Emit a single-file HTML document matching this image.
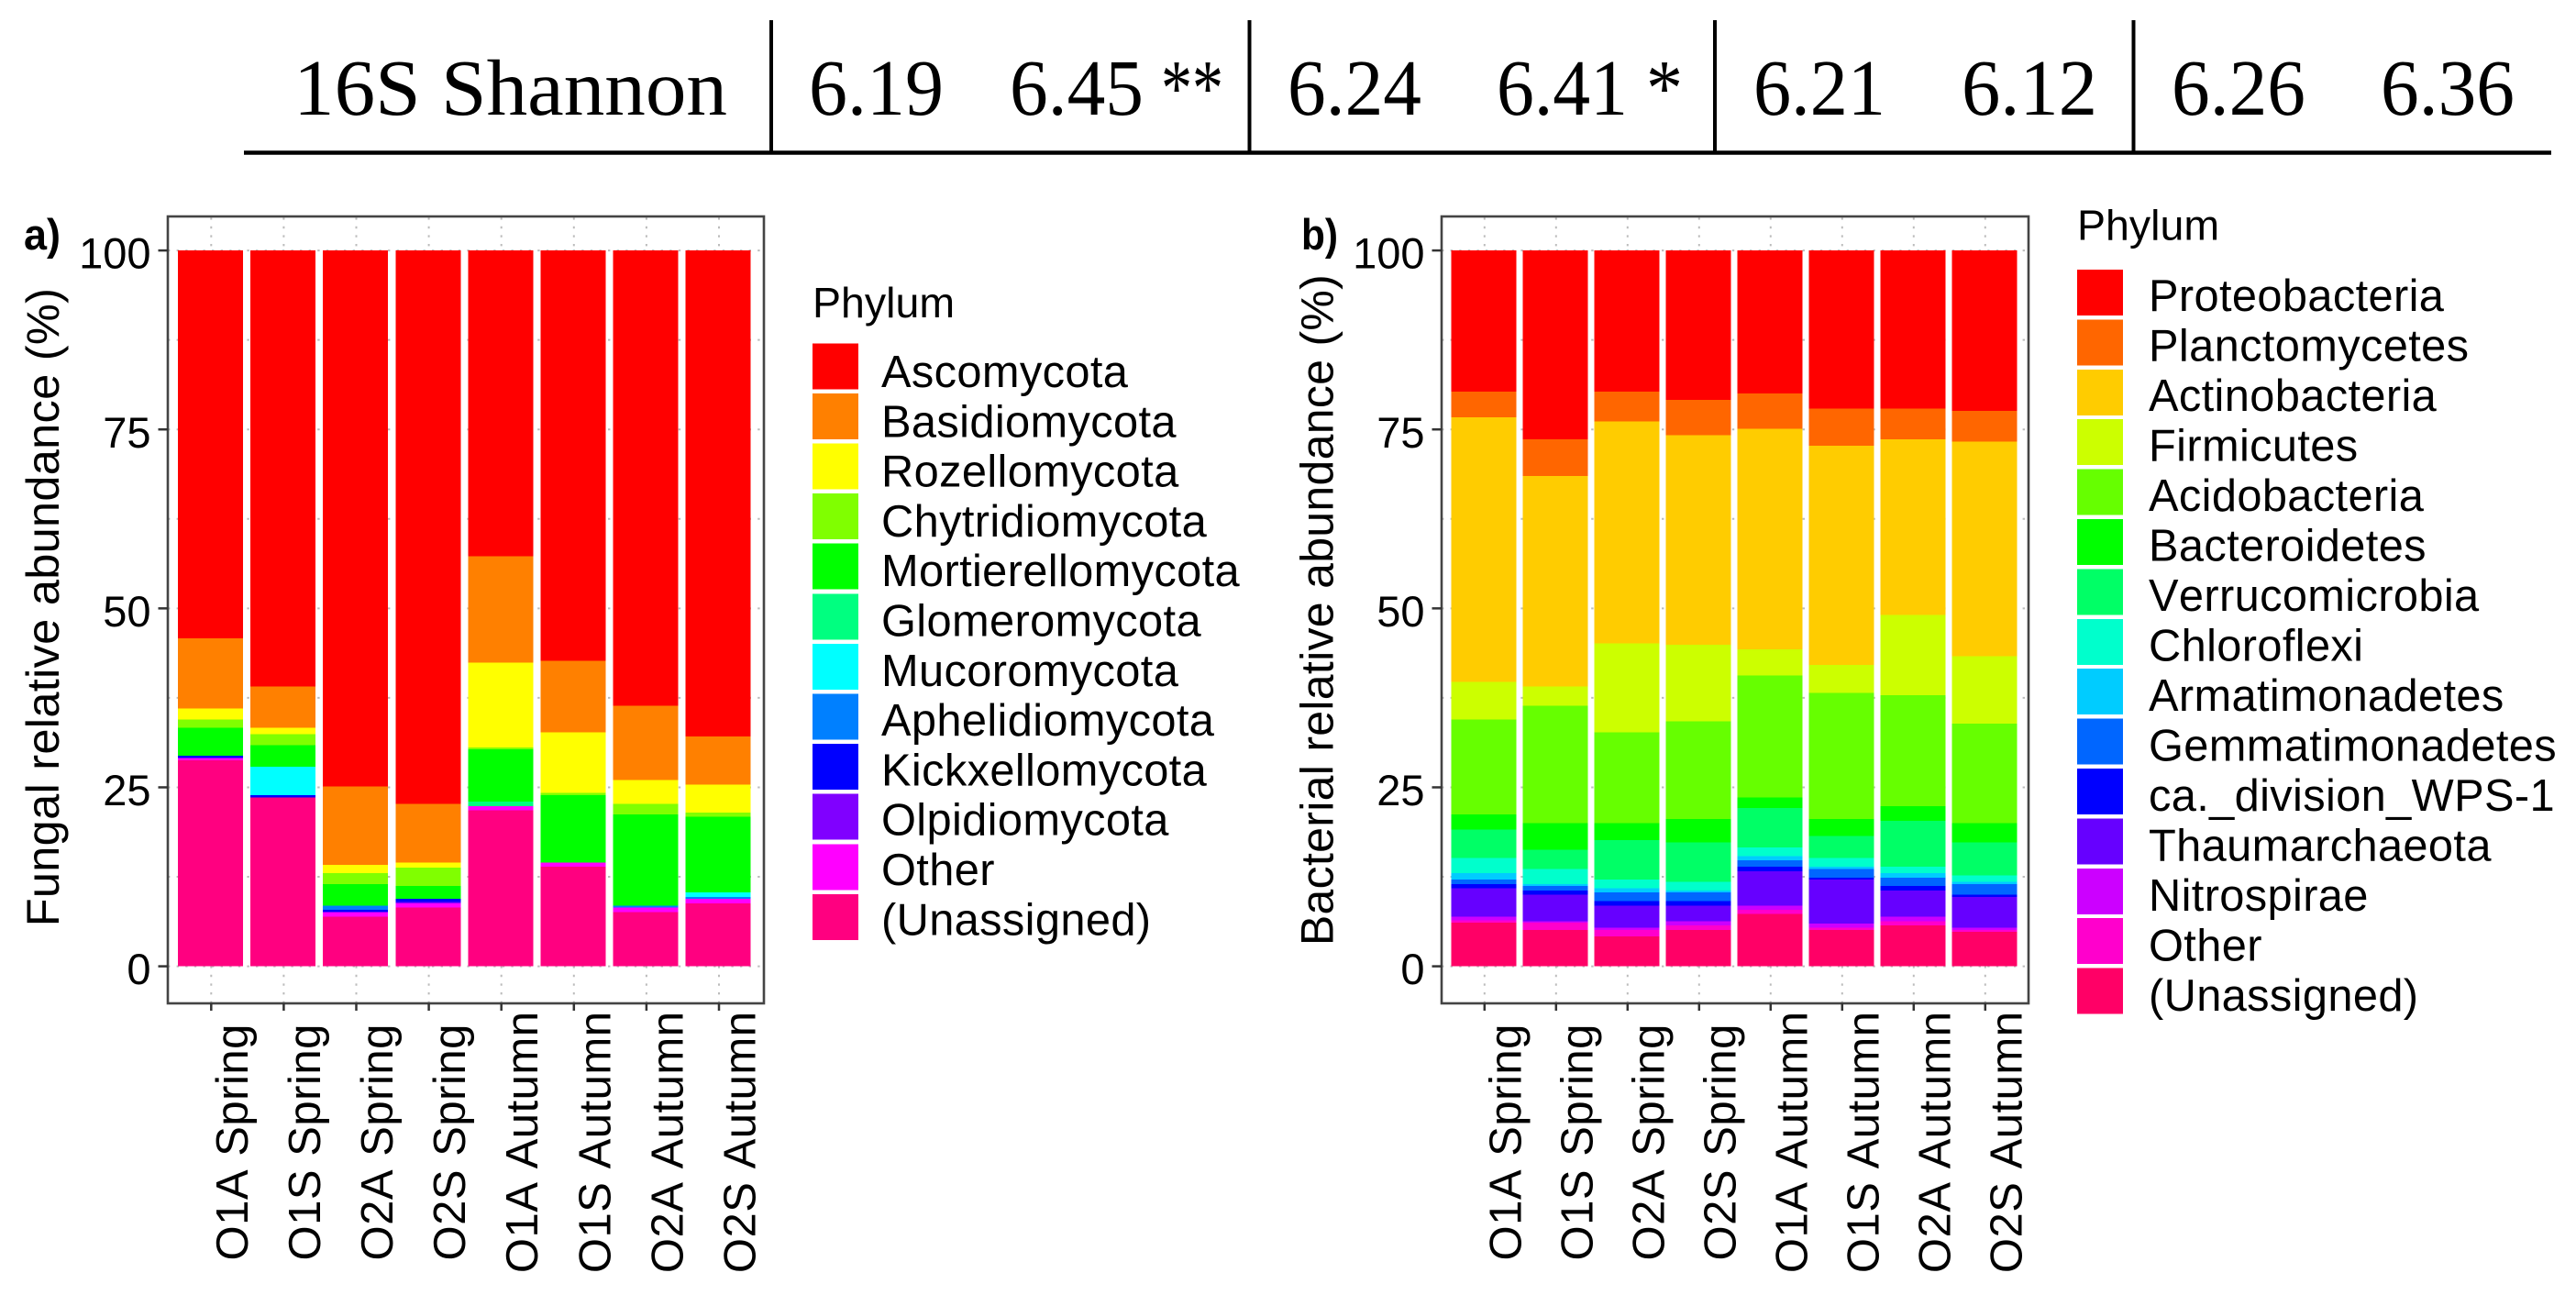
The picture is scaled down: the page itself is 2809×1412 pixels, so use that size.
<!DOCTYPE html>
<html lang="en">
<head>
<meta charset="utf-8">
<title>Fungal and bacterial relative abundance</title>
<style>
html,body{margin:0;padding:0;background:#fff;width:2809px;height:1412px;overflow:hidden}
svg{display:block}
text{font-family:"Liberation Sans",Arial,sans-serif;fill:#000}
.serif{font-family:"Liberation Serif","Times New Roman",serif;font-size:87px}
</style>
</head>
<body>
<svg id="figure" xmlns="http://www.w3.org/2000/svg" width="2809" height="1412" viewBox="0 0 2809 1412">
  <rect x="0" y="0" width="2809" height="1412" fill="#fff"/>
  <g>
    <text class="serif" x="320" y="125" textLength="473" lengthAdjust="spacingAndGlyphs">16S Shannon</text>
    <line x1="841" y1="22" x2="841" y2="166" stroke="#000" stroke-width="4"/>
    <line x1="1362.5" y1="22" x2="1362.5" y2="166" stroke="#000" stroke-width="4"/>
    <line x1="1870" y1="22" x2="1870" y2="166" stroke="#000" stroke-width="4"/>
    <line x1="2326.5" y1="22" x2="2326.5" y2="166" stroke="#000" stroke-width="4"/>
    <line x1="266" y1="166.5" x2="2782" y2="166.5" stroke="#000" stroke-width="4.5"/>
    <text class="serif" x="882" y="125" textLength="147" lengthAdjust="spacingAndGlyphs">6.19</text>
    <text class="serif" x="1101" y="125" textLength="146" lengthAdjust="spacingAndGlyphs">6.45</text>
    <text class="serif" x="1266" y="125" textLength="68" lengthAdjust="spacingAndGlyphs">**</text>
    <text class="serif" x="1404" y="125" textLength="146" lengthAdjust="spacingAndGlyphs">6.24</text>
    <text class="serif" x="1632" y="125" textLength="143" lengthAdjust="spacingAndGlyphs">6.41</text>
    <text class="serif" x="1795" y="125" textLength="40" lengthAdjust="spacingAndGlyphs">*</text>
    <text class="serif" x="1912" y="125" textLength="144" lengthAdjust="spacingAndGlyphs">6.21</text>
    <text class="serif" x="2139" y="125" textLength="148" lengthAdjust="spacingAndGlyphs">6.12</text>
    <text class="serif" x="2368" y="125" textLength="146" lengthAdjust="spacingAndGlyphs">6.26</text>
    <text class="serif" x="2596" y="125" textLength="146" lengthAdjust="spacingAndGlyphs">6.36</text>
  </g>
  <g id="chart-a"></g>
  <g id="chart-b"></g>
</svg>
<script>
const sampleLabels = ["O1A Spring","O1S Spring","O2A Spring","O2S Spring","O1A Autumn","O1S Autumn","O2A Autumn","O2S Autumn"];
const yTickLabels = [0,25,50,75,100];
const yGridValues = [0,12.5,25,37.5,50,62.5,75,87.5,100];

const fungalPhyla = ["Ascomycota","Basidiomycota","Rozellomycota","Chytridiomycota","Mortierellomycota","Glomeromycota","Mucoromycota","Aphelidiomycota","Kickxellomycota","Olpidiomycota","Other","(Unassigned)"];
const fungalColors = ["#FF0000","#FF8000","#FFFF00","#80FF00","#00FF00","#00FF80","#00FFFF","#0080FF","#0000FF","#8000FF","#FF00FF","#FF0080"];
const fungalAscomycota = [54.2,60.9,74.9,77.3,42.7,57.3,63.6,67.9];
const fungalBasidiomycota = [9.8,5.8,10.9,8.2,14.9,10.0,10.4,6.7];
const fungalRozellomycota = [1.5,0.9,1.2,0.7,11.8,8.5,3.3,3.9];
const fungalChytridiomycota = [1.2,1.5,1.5,2.6,0.3,0.3,1.5,0.6];
const fungalMortierellomycota = [3.9,3.0,3.0,1.8,7.3,9.4,12.7,10.6];
const fungalGlomeromycota = [0,0,0,0,0.6,0,0,0];
const fungalMucoromycota = [0,4.0,0,0,0,0,0,0.6];
const fungalAphelidiomycota = [0,0,0.6,0,0,0,0.3,0.3];
const fungalKickxellomycota = [0.3,0.3,0.3,0.4,0,0,0,0];
const fungalOlpidiomycota = [0,0,0,0.2,0,0,0,0];
const fungalOther = [0.3,0,0.7,0.6,0.6,0.6,0.6,0.6];
const fungalUnassigned = [28.8,23.6,6.9,8.2,21.8,13.9,7.6,8.8];

const bacterialPhyla = ["Proteobacteria","Planctomycetes","Actinobacteria","Firmicutes","Acidobacteria","Bacteroidetes","Verrucomicrobia","Chloroflexi","Armatimonadetes","Gemmatimonadetes","ca._division_WPS-1","Thaumarchaeota","Nitrospirae","Other","(Unassigned)"];
const bacterialColors = ["#FF0000","#FF6600","#FFCC00","#CCFF00","#66FF00","#00FF00","#00FF66","#00FFCC","#00CCFF","#0066FF","#0000FF","#6600FF","#CC00FF","#FF00CC","#FF0066"];
const bacterialProteobacteria = [19.7,26.4,19.7,20.9,20.0,22.1,22.1,22.4];
const bacterialPlanctomycetes = [3.6,5.1,4.2,4.9,4.9,5.2,4.3,4.3];
const bacterialActinobacteria = [37.0,29.4,31.0,29.3,30.8,30.6,24.5,30.0];
const bacterialFirmicutes = [5.2,2.7,12.4,10.7,3.7,3.9,11.2,9.4];
const bacterialAcidobacteria = [13.3,16.4,12.7,13.6,17.0,17.6,15.5,13.9];
const bacterialBacteroidetes = [2.1,3.7,2.4,3.3,1.5,2.4,2.1,2.7];
const bacterialVerrucomicrobia = [4.0,2.7,5.5,5.5,5.5,3.1,6.4,4.6];
const bacterialChloroflexi = [2.1,2.1,1.2,1.2,1.2,1.2,0.9,0.9];
const bacterialArmatimonadetes = [0.9,0.3,0.6,0.3,0.6,0.3,0.6,0.3];
const bacterialGemmatimonadetes = [0.6,0.6,1.2,1.2,0.9,1.2,1.2,1.5];
const bacterialWps1 = [0.6,0.6,0.6,0.6,0.6,0.3,0.6,0.3];
const bacterialThaumarchaeota = [4.0,3.7,3.1,2.2,4.8,6.1,3.7,4.3];
const bacterialNitrospirae = [0.5,0.2,0.3,0.6,0.6,0.6,0.6,0.3];
const bacterialOther = [0.3,1.0,0.9,0.6,0.6,0.3,0.6,0.3];
const bacterialUnassigned = [6.1,5.1,4.2,5.1,7.3,5.1,5.7,4.8];

const fungalSeries = [fungalAscomycota,fungalBasidiomycota,fungalRozellomycota,fungalChytridiomycota,fungalMortierellomycota,fungalGlomeromycota,fungalMucoromycota,fungalAphelidiomycota,fungalKickxellomycota,fungalOlpidiomycota,fungalOther,fungalUnassigned];
const bacterialSeries = [bacterialProteobacteria,bacterialPlanctomycetes,bacterialActinobacteria,bacterialFirmicutes,bacterialAcidobacteria,bacterialBacteroidetes,bacterialVerrucomicrobia,bacterialChloroflexi,bacterialArmatimonadetes,bacterialGemmatimonadetes,bacterialWps1,bacterialThaumarchaeota,bacterialNitrospirae,bacterialOther,bacterialUnassigned];

const NS = "http://www.w3.org/2000/svg";
function make(parent, tag, attrs, txt) {
  const el = document.createElementNS(NS, tag);
  for (const k in attrs) el.setAttribute(k, attrs[k]);
  if (txt !== undefined) el.textContent = txt;
  parent.appendChild(el);
  return el;
}
function slug(s) {
  return String(s).toLowerCase().replace(/[^a-z0-9]+/g, '-').replace(/^-|-$/g, '');
}
function yScale(v) { return 1053.6 - 7.805 * v; }

function drawChart(root, cfg) {
  const panelTop = 236, panelBottom = 1094;
  const xBar = function (i) { return cfg.firstCenter + cfg.step * i; };
  const xTick = function (i) { return xBar(i) + 0.8; };

  const bg = make(root, 'rect', {x: cfg.left, y: panelTop, width: cfg.right - cfg.left, height: panelBottom - panelTop, fill: '#fff'});
  
  

  const dash = {stroke: '#bcbcbc', 'stroke-width': 2, 'stroke-dasharray': '2.4 7.2'};
  yGridValues.forEach(function (v) {
    const g = make(root, 'line', Object.assign({x1: cfg.left, x2: cfg.right, y1: yScale(v), y2: yScale(v)}, dash));
    
    
  });
  sampleLabels.forEach(function (s, i) {
    const g = make(root, 'line', Object.assign({x1: xTick(i), x2: xTick(i), y1: panelBottom, y2: panelTop}, dash));
    
    
  });

  sampleLabels.forEach(function (s, i) {
    let base = 0;
    for (let k = cfg.series.length - 1; k >= 0; k--) {
      const val = cfg.series[k][i];
      if (val <= 0) continue;
      const top = base + val;
      const seg = make(root, 'rect', {
        x: xBar(i) - cfg.barWidth / 2,
        y: yScale(top),
        width: cfg.barWidth,
        height: yScale(base) - yScale(top),
        fill: cfg.colors[k],
        'shape-rendering': 'crispEdges'
      });
      
      
      base = top;
    }
  });

  const border = make(root, 'rect', {x: cfg.left, y: panelTop, width: cfg.right - cfg.left, height: panelBottom - panelTop, fill: 'none', stroke: '#444', 'stroke-width': 2.6});
  
  

  yTickLabels.forEach(function (v) {
    const t = make(root, 'line', {x1: cfg.left - 10.5, x2: cfg.left, y1: yScale(v), y2: yScale(v), stroke: '#333', 'stroke-width': 2.5});
    
    
    const l = make(root, 'text', {x: cfg.left - 18.5, y: yScale(v) + 19.6, 'text-anchor': 'end', 'font-size': 47}, v);
    
    
  });

  sampleLabels.forEach(function (s, i) {
    const t = make(root, 'line', {x1: xTick(i), x2: xTick(i), y1: panelBottom, y2: panelBottom + 8, stroke: '#333', 'stroke-width': 2.5});
    
    
    const bx = xTick(i) + 39.5;
    const l = make(root, 'text', {transform: 'translate(' + bx + ',1245.3) rotate(-90)', 'text-anchor': 'middle', 'font-size': 49, 'letter-spacing': 0.5, style: 'font-kerning:none'}, s);
    
    
  });

  const yt = make(root, 'text', {transform: 'translate(' + cfg.titleX + ',' + cfg.titleY + ') rotate(-90)', 'text-anchor': 'middle', 'font-size': cfg.titleSize, 'letter-spacing': 0.3}, cfg.title);
  
  

  const pl = make(root, 'text', {x: cfg.tagX, y: 272, 'font-size': 47, 'font-weight': 'bold', textLength: 40, lengthAdjust: 'spacingAndGlyphs'}, cfg.tag);
  
  

  const lt = make(root, 'text', {x: cfg.legendX, y: cfg.legendTitleY, 'font-size': 46.5}, 'Phylum');
  
  

  cfg.phyla.forEach(function (name, k) {
    const key = make(root, 'rect', {x: cfg.legendX, y: cfg.keyY + cfg.keyStep * k, width: 50, height: 50, fill: cfg.colors[k], 'shape-rendering': 'crispEdges'});
    
    
    const tx = make(root, 'text', {x: cfg.labelX, y: cfg.labelY + cfg.labelStep * k, 'font-size': 48.8, 'letter-spacing': 0.35, style: 'font-kerning:none'}, name);
    
    
  });
}

drawChart(document.getElementById('chart-a'), {
  series: fungalSeries, phyla: fungalPhyla, colors: fungalColors,
  left: 183, right: 833, firstCenter: 229.5, step: 79.1, barWidth: 71,
  title: 'Fungal relative abundance (%)', titleX: 64, titleY: 662, titleSize: 50.5,
  tag: 'a)', tagX: 26,
  legendX: 886, legendTitleY: 346, keyY: 374.3, keyStep: 54.6, labelX: 961, labelY: 422, labelStep: 54.3
});
drawChart(document.getElementById('chart-b'), {
  series: bacterialSeries, phyla: bacterialPhyla, colors: bacterialColors,
  left: 1572, right: 2212, firstCenter: 1618, step: 78, barWidth: 70.7,
  title: 'Bacterial relative abundance (%)', titleX: 1453.3, titleY: 665, titleSize: 50,
  tag: 'b)', tagX: 1419,
  legendX: 2265, legendTitleY: 261.6, keyY: 294, keyStep: 54.4, labelX: 2343, labelY: 339, labelStep: 54.5
});
</script>
</body>
</html>
